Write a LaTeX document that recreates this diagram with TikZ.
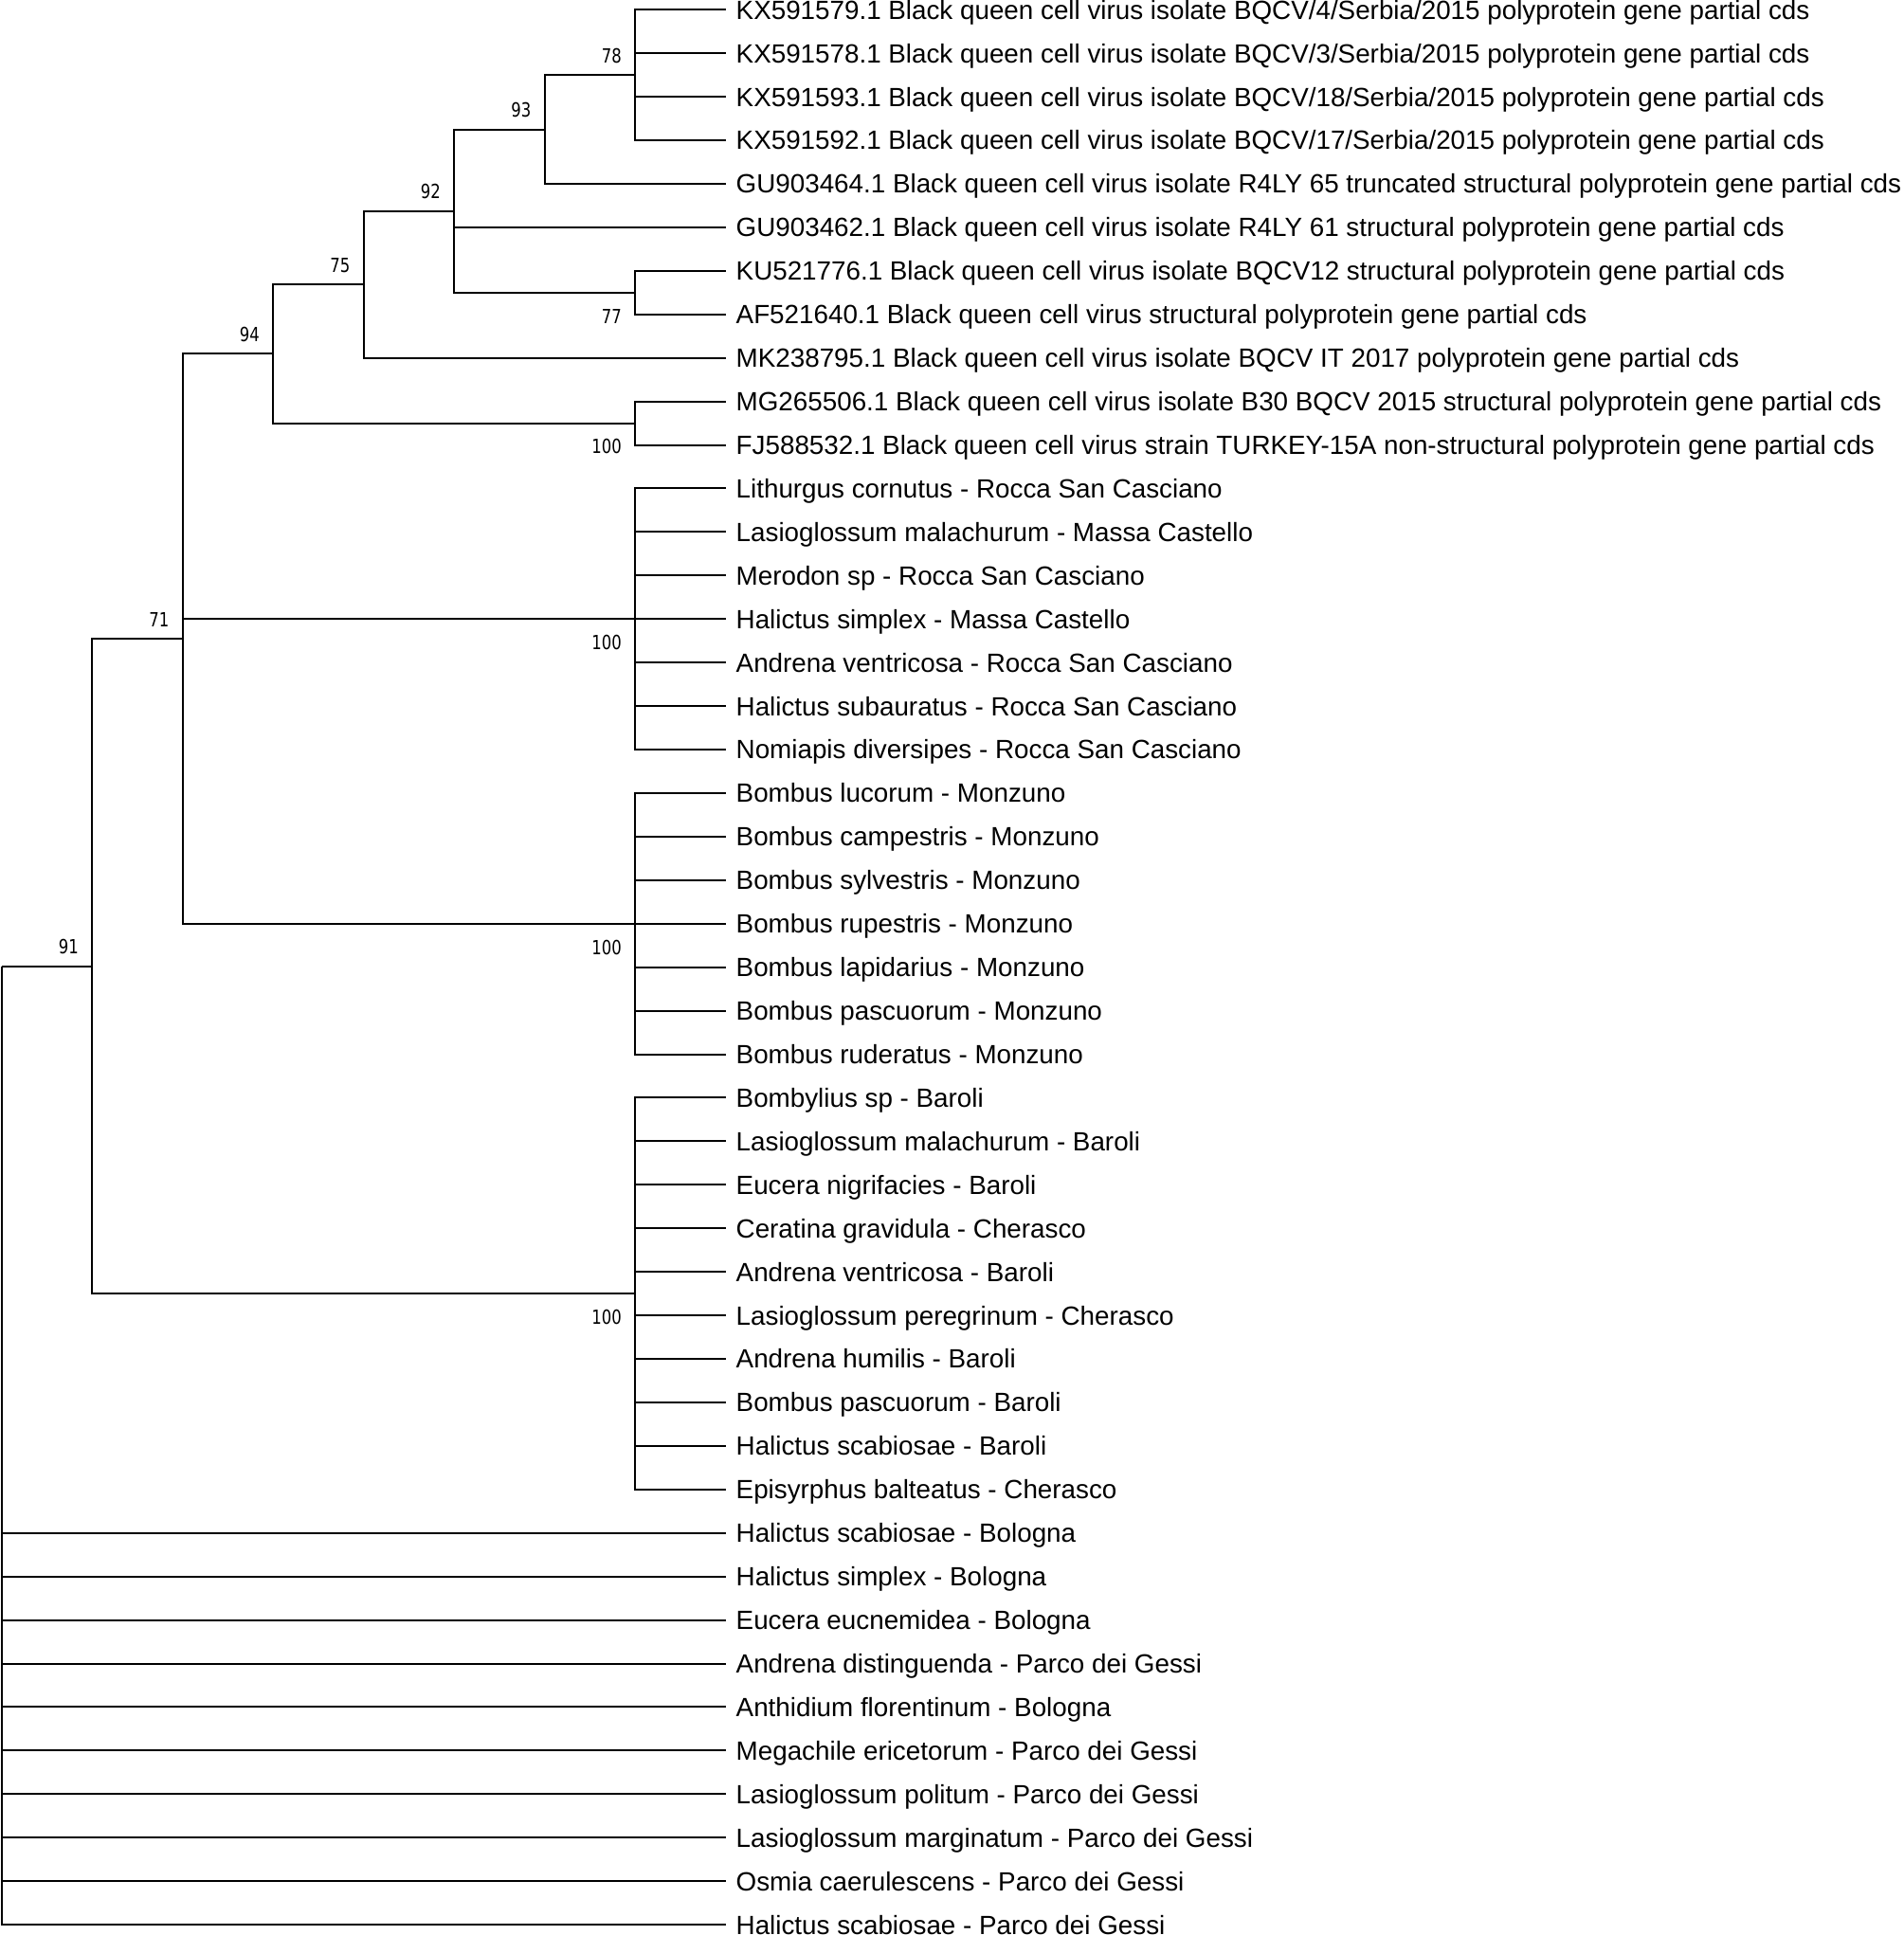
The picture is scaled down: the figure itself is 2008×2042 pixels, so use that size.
\documentclass[tikz,border=0pt]{standalone}
\usepackage{fontspec}
\newfontfamily\leaffont{Liberation Sans}
\newfontfamily\bootfont[FakeStretch=0.8]{DejaVu Sans}
\usetikzlibrary{positioning}
\tikzset{%
  taxon/.style={anchor=west,inner xsep=11pt,inner ysep=0pt,text height=19.9pt,text depth=0pt,font=\leaffont\fontsize{27.8pt}{30pt}\selectfont},
  boot/.style={inner sep=0pt,font=\bootfont\fontsize{20.6pt}{21pt}\selectfont},
  branch/.style={draw=black,line width=2pt,to path={|- (\tikztotarget)}}%
}

\begin{document}
\begin{tikzpicture}[x=1pt,y=-1pt,node distance=45.93pt]
      \useasboundingbox (0,0) rectangle (2008,2042);
      % tips
      \node (tip_1) [taxon] at (765.5,10.2) {KX591579.1 Black queen cell virus isolate BQCV/4/Serbia/2015 polyprotein gene partial cds};
      \node (tip_2) [below=of tip_1.west,taxon] {KX591578.1 Black queen cell virus isolate BQCV/3/Serbia/2015 polyprotein gene partial cds};
      \node (tip_3) [below=of tip_2.west,taxon] {KX591593.1 Black queen cell virus isolate BQCV/18/Serbia/2015 polyprotein gene partial cds};
      \node (tip_4) [below=of tip_3.west,taxon] {KX591592.1 Black queen cell virus isolate BQCV/17/Serbia/2015 polyprotein gene partial cds};
      \node (tip_5) [below=of tip_4.west,taxon] {GU903464.1 Black queen cell virus isolate R4LY 65 truncated structural polyprotein gene partial cds};
      \node (tip_6) [below=of tip_5.west,taxon] {GU903462.1 Black queen cell virus isolate R4LY 61 structural polyprotein gene partial cds};
      \node (tip_7) [below=of tip_6.west,taxon] {KU521776.1 Black queen cell virus isolate BQCV12 structural polyprotein gene partial cds};
      \node (tip_8) [below=of tip_7.west,taxon] {AF521640.1 Black queen cell virus structural polyprotein gene partial cds};
      \node (tip_9) [below=of tip_8.west,taxon] {MK238795.1 Black queen cell virus isolate BQCV IT 2017 polyprotein gene partial cds};
      \node (tip_10) [below=of tip_9.west,taxon] {MG265506.1 Black queen cell virus isolate B30 BQCV 2015 structural polyprotein gene partial cds};
      \node (tip_11) [below=of tip_10.west,taxon] {FJ588532.1 Black queen cell virus strain TURKEY-15A non-structural polyprotein gene partial cds};
      \node (tip_12) [below=of tip_11.west,taxon] {Lithurgus cornutus - Rocca San Casciano};
      \node (tip_13) [below=of tip_12.west,taxon] {Lasioglossum malachurum - Massa Castello};
      \node (tip_14) [below=of tip_13.west,taxon] {Merodon sp - Rocca San Casciano};
      \node (tip_15) [below=of tip_14.west,taxon] {Halictus simplex - Massa Castello};
      \node (tip_16) [below=of tip_15.west,taxon] {Andrena ventricosa - Rocca San Casciano};
      \node (tip_17) [below=of tip_16.west,taxon] {Halictus subauratus - Rocca San Casciano};
      \node (tip_18) [below=of tip_17.west,taxon] {Nomiapis diversipes - Rocca San Casciano};
      \node (tip_19) [below=of tip_18.west,taxon] {Bombus lucorum - Monzuno};
      \node (tip_20) [below=of tip_19.west,taxon] {Bombus campestris - Monzuno};
      \node (tip_21) [below=of tip_20.west,taxon] {Bombus sylvestris - Monzuno};
      \node (tip_22) [below=of tip_21.west,taxon] {Bombus rupestris - Monzuno};
      \node (tip_23) [below=of tip_22.west,taxon] {Bombus lapidarius - Monzuno};
      \node (tip_24) [below=of tip_23.west,taxon] {Bombus pascuorum - Monzuno};
      \node (tip_25) [below=of tip_24.west,taxon] {Bombus ruderatus - Monzuno};
      \node (tip_26) [below=of tip_25.west,taxon] {Bombylius sp - Baroli};
      \node (tip_27) [below=of tip_26.west,taxon] {Lasioglossum malachurum - Baroli};
      \node (tip_28) [below=of tip_27.west,taxon] {Eucera nigrifacies - Baroli};
      \node (tip_29) [below=of tip_28.west,taxon] {Ceratina gravidula - Cherasco};
      \node (tip_30) [below=of tip_29.west,taxon] {Andrena ventricosa - Baroli};
      \node (tip_31) [below=of tip_30.west,taxon] {Lasioglossum peregrinum - Cherasco};
      \node (tip_32) [below=of tip_31.west,taxon] {Andrena humilis - Baroli};
      \node (tip_33) [below=of tip_32.west,taxon] {Bombus pascuorum - Baroli};
      \node (tip_34) [below=of tip_33.west,taxon] {Halictus scabiosae - Baroli};
      \node (tip_35) [below=of tip_34.west,taxon] {Episyrphus balteatus - Cherasco};
      \node (tip_36) [below=of tip_35.west,taxon] {Halictus scabiosae - Bologna};
      \node (tip_37) [below=of tip_36.west,taxon] {Halictus simplex - Bologna};
      \node (tip_38) [below=of tip_37.west,taxon] {Eucera eucnemidea - Bologna};
      \node (tip_39) [below=of tip_38.west,taxon] {Andrena distinguenda - Parco dei Gessi};
      \node (tip_40) [below=of tip_39.west,taxon] {Anthidium florentinum - Bologna};
      \node (tip_41) [below=of tip_40.west,taxon] {Megachile ericetorum - Parco dei Gessi};
      \node (tip_42) [below=of tip_41.west,taxon] {Lasioglossum politum - Parco dei Gessi};
      \node (tip_43) [below=of tip_42.west,taxon] {Lasioglossum marginatum - Parco dei Gessi};
      \node (tip_44) [below=of tip_43.west,taxon] {Osmia caerulescens - Parco dei Gessi};
      \node (tip_45) [below=of tip_44.west,taxon] {Halictus scabiosae - Parco dei Gessi};

      % inner nodes
      \coordinate (node_78) at (670,79.1);
      \coordinate (node_93) at (574.5,136.5);
      \coordinate (node_77) at (670,308.8);
      \coordinate (node_92) at (479,222.65);
      \coordinate (node_75) at (383.5,300.1);
      \coordinate (node_virus) at (670,446.5);
      \coordinate (node_94) at (288,373.3);
      \coordinate (node_rocca) at (670,653.2);
      \coordinate (node_monzuno) at (670,974.7);
      \coordinate (node_71) at (192.5,674.0);
      \coordinate (node_baroli) at (670,1365.2);
      \coordinate (node_91) at (97,1019.6);
      \coordinate (root) at (1.5,1019.6);

      \path (node_78) edge[branch] (tip_1.west) edge[branch] (tip_2.west)
                      edge[branch] (tip_3.west) edge[branch] (tip_4.west);
      \path (node_93) edge[branch] (node_78) edge[branch] (tip_5.west);
      \path (node_77) edge[branch] (tip_7.west) edge[branch] (tip_8.west);
      \path (node_92) edge[branch] (node_93) edge[branch] (tip_6.west) edge[branch] (node_77);
      \path (node_75) edge[branch] (node_92) edge[branch] (tip_9.west);
      \path (node_virus) edge[branch] (tip_10.west) edge[branch] (tip_11.west);
      \path (node_94) edge[branch] (node_75) edge[branch] (node_virus);
      \path (node_rocca) edge[branch] (tip_12.west) edge[branch] (tip_13.west)
                         edge[branch] (tip_14.west) edge[branch] (tip_15.west)
                         edge[branch] (tip_16.west) edge[branch] (tip_17.west)
                         edge[branch] (tip_18.west);
      \path (node_monzuno) edge[branch] (tip_19.west) edge[branch] (tip_20.west)
                           edge[branch] (tip_21.west) edge[branch] (tip_22.west)
                           edge[branch] (tip_23.west) edge[branch] (tip_24.west)
                           edge[branch] (tip_25.west);
      \path (node_71) edge[branch] (node_94) edge[branch] (node_rocca) edge[branch] (node_monzuno);
      \path (node_baroli) edge[branch] (tip_26.west) edge[branch] (tip_27.west)
                          edge[branch] (tip_28.west) edge[branch] (tip_29.west)
                          edge[branch] (tip_30.west) edge[branch] (tip_31.west)
                          edge[branch] (tip_32.west) edge[branch] (tip_33.west)
                          edge[branch] (tip_34.west) edge[branch] (tip_35.west);
      \path (node_91) edge[branch] (node_71) edge[branch] (node_baroli);
      \path (root) edge[branch] (node_91)
                   edge[branch] (tip_36.west) edge[branch] (tip_37.west)
                   edge[branch] (tip_38.west) edge[branch] (tip_39.west)
                   edge[branch] (tip_40.west) edge[branch] (tip_41.west)
                   edge[branch] (tip_42.west) edge[branch] (tip_43.west)
                   edge[branch] (tip_44.west) edge[branch] (tip_45.west);

      % bootstrap values
      \node (bs_78) [boot,above left=12.5pt and 14pt of node_78] {78};
      \node (bs_93) [boot,above left=12.5pt and 14pt of node_93] {93};
      \node (bs_92) [boot,above left=12.5pt and 14pt of node_92] {92};
      \node (bs_75) [boot,above left=12.5pt and 14pt of node_75] {75};
      \node (bs_94) [boot,above left=12.5pt and 14pt of node_94] {94};
      \node (bs_71) [boot,above left=12.5pt and 14pt of node_71] {71};
      \node (bs_91) [boot,above left=12.5pt and 14pt of node_91] {91};
      \node (bs_77) [boot,below left=17pt and 14pt of node_77] {77};
      \node (bs_virus) [boot,below left=17pt and 14pt of node_virus] {100};
      \node (bs_rocca) [boot,below left=17pt and 14pt of node_rocca] {100};
      \node (bs_monzuno) [boot,below left=17pt and 14pt of node_monzuno] {100};
      \node (bs_baroli) [boot,below left=17pt and 14pt of node_baroli] {100};
\end{tikzpicture}
\end{document}
